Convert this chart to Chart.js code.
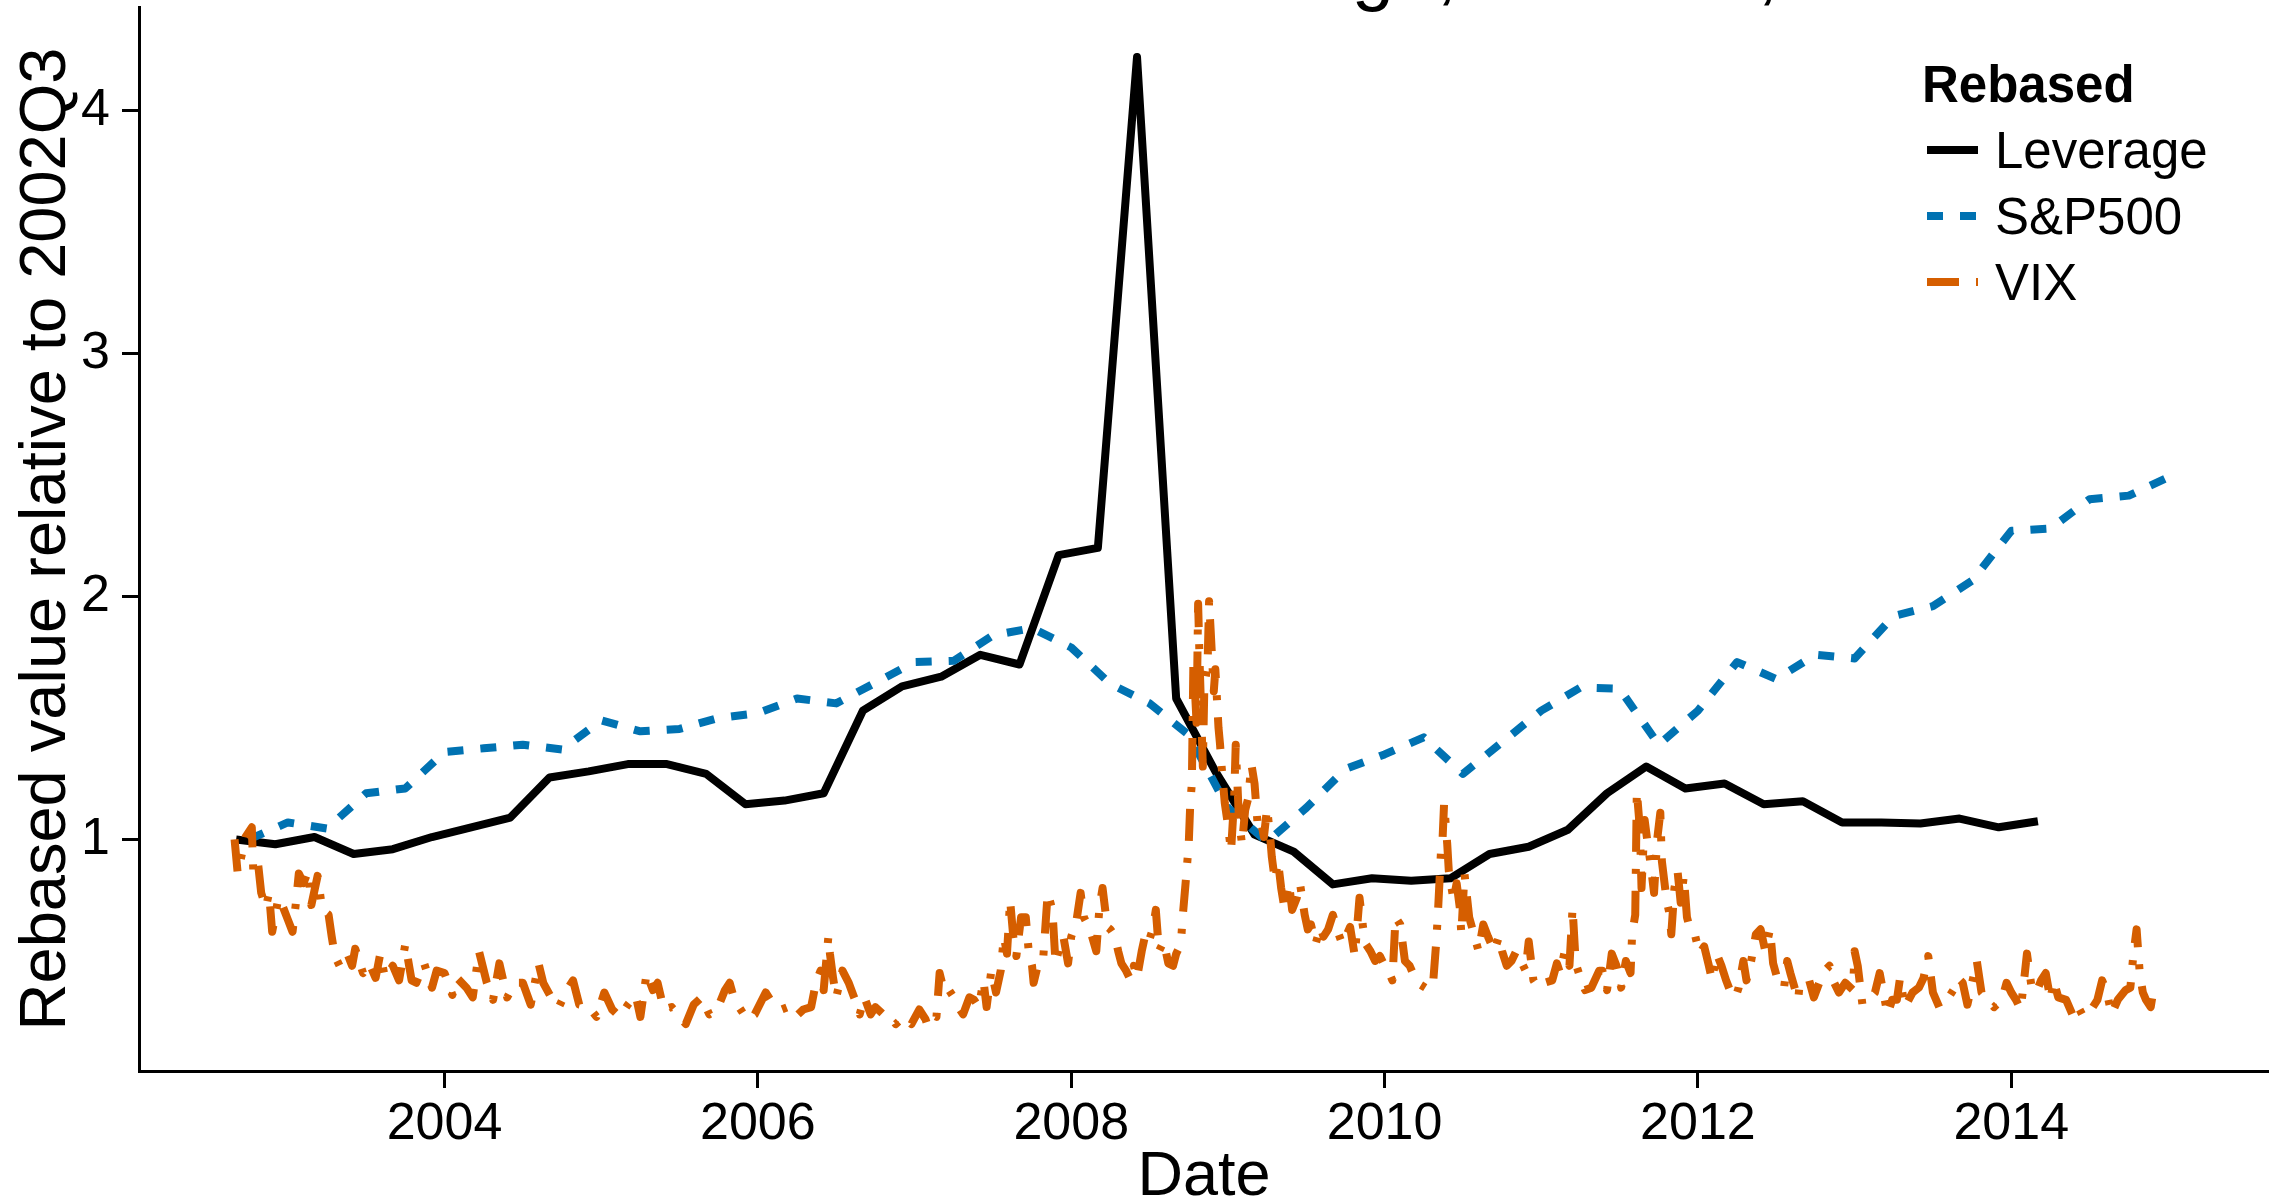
<!DOCTYPE html>
<html>
<head>
<meta charset="utf-8">
<title>Leverage, S&amp;P500, VIX</title>
<script src="https://cdn.jsdelivr.net/npm/chart.js@4.4.1/dist/chart.umd.min.js"></script>
<style>
  html, body { margin: 0; padding: 0; background: #fff; }
  #wrap { position: relative; width: 2269px; height: 1203px; }
</style>
</head>
<body>
<div id="wrap"><canvas id="lineChart"></canvas></div>
<script>
// ---- data: everything rebased to 2002Q3 = 1 ----
const chartTitle = 'Leverage, S&P500, VIX';
const legendTitle = 'Rebased';
const xTicks = [2004, 2006, 2008, 2010, 2012, 2014];
const yTicks = [1, 2, 3, 4];

// leverage, quarterly
const levDates = [
  2002.67, 2002.92, 2003.17, 2003.42, 2003.67, 2003.92, 2004.17, 2004.42, 2004.67, 2004.92,
  2005.17, 2005.42, 2005.67, 2005.92, 2006.17, 2006.42, 2006.67, 2006.92, 2007.17, 2007.42,
  2007.67, 2007.92, 2008.17, 2008.42, 2008.67, 2008.92, 2009.17, 2009.42, 2009.67, 2009.92,
  2010.17, 2010.42, 2010.67, 2010.92, 2011.17, 2011.42, 2011.67, 2011.92, 2012.17, 2012.42,
  2012.67, 2012.92, 2013.17, 2013.42, 2013.67, 2013.92, 2014.17
];
const levValues = [
  1.00, 0.98, 1.01, 0.94, 0.96, 1.01, 1.05, 1.09, 1.255, 1.28,
  1.31, 1.31, 1.27, 1.145, 1.16, 1.19, 1.53, 1.63, 1.67, 1.76,
  1.72, 2.17, 2.20, 4.22, 1.58, 1.28, 1.02, 0.95, 0.815, 0.84,
  0.83, 0.84, 0.94, 0.97, 1.04, 1.19, 1.30, 1.21, 1.23, 1.145,
  1.157, 1.07, 1.07, 1.066, 1.086, 1.05, 1.075
];

// S&P500, quarter ends
const spxDates = [
  2002.75, 2003.00, 2003.25, 2003.50, 2003.75, 2004.00, 2004.25, 2004.50, 2004.75, 2005.00,
  2005.25, 2005.50, 2005.75, 2006.00, 2006.25, 2006.50, 2006.75, 2007.00, 2007.25, 2007.50,
  2007.75, 2008.00, 2008.25, 2008.50, 2008.75, 2009.00, 2009.25, 2009.50, 2009.75, 2010.00,
  2010.25, 2010.50, 2010.75, 2011.00, 2011.25, 2011.50, 2011.75, 2012.00, 2012.25, 2012.50,
  2012.75, 2013.00, 2013.25, 2013.50, 2013.75, 2014.00, 2014.25, 2014.50, 2014.75, 2015.00
];
const spxValues = [
  1.00, 1.07, 1.045, 1.19, 1.21, 1.36, 1.375, 1.39, 1.37, 1.49,
  1.445, 1.455, 1.50, 1.52, 1.58, 1.56, 1.645, 1.73, 1.735, 1.84,
  1.87, 1.79, 1.64, 1.56, 1.43, 1.13, 0.99, 1.13, 1.29, 1.35,
  1.42, 1.27, 1.40, 1.53, 1.625, 1.62, 1.39, 1.53, 1.73, 1.66,
  1.76, 1.745, 1.92, 1.96, 2.065, 2.27, 2.28, 2.40, 2.415, 2.49
];

// VIX
const vixDates = [
  2002.66, 2002.68, 2002.73, 2002.77, 2002.78, 2002.81, 2002.83, 2002.86, 2002.88, 2002.90,
  2002.94, 2002.97, 2003.00, 2003.03, 2003.05, 2003.07, 2003.10, 2003.13, 2003.15, 2003.19,
  2003.22, 2003.26, 2003.28, 2003.30, 2003.33, 2003.38, 2003.41, 2003.43, 2003.48, 2003.52,
  2003.56, 2003.59, 2003.62, 2003.67, 2003.71, 2003.75, 2003.79, 2003.82, 2003.87, 2003.92,
  2003.95, 2004.00, 2004.05, 2004.08, 2004.14, 2004.18, 2004.22, 2004.27, 2004.31, 2004.35,
  2004.40, 2004.45, 2004.50, 2004.55, 2004.60, 2004.63, 2004.68, 2004.73, 2004.78, 2004.82,
  2004.86, 2004.92, 2004.97, 2005.02, 2005.07, 2005.12, 2005.17, 2005.22, 2005.25, 2005.29,
  2005.33, 2005.36, 2005.40, 2005.45, 2005.49, 2005.54, 2005.59, 2005.64, 2005.69, 2005.74,
  2005.79, 2005.82, 2005.85, 2005.89, 2005.93, 2005.98, 2006.05, 2006.10, 2006.15, 2006.19,
  2006.24, 2006.29, 2006.34, 2006.37, 2006.40, 2006.42, 2006.45, 2006.46, 2006.48, 2006.50,
  2006.54, 2006.58, 2006.62, 2006.65, 2006.68, 2006.72, 2006.75, 2006.80, 2006.85, 2006.88,
  2006.93, 2006.98, 2007.03, 2007.07,
  2007.08, 2007.11, 2007.14, 2007.16, 2007.19, 2007.22, 2007.25, 2007.28, 2007.31, 2007.35,
  2007.38, 2007.41, 2007.44, 2007.46, 2007.49, 2007.52, 2007.55, 2007.57, 2007.59, 2007.61,
  2007.63, 2007.65, 2007.68, 2007.71, 2007.73, 2007.75, 2007.76, 2007.79, 2007.82, 2007.85,
  2007.88, 2007.90, 2007.93, 2007.95, 2007.98, 2008.00, 2008.03, 2008.06, 2008.08, 2008.12,
  2008.16, 2008.18, 2008.20, 2008.23, 2008.25, 2008.28, 2008.30, 2008.32, 2008.35, 2008.38,
  2008.40, 2008.42, 2008.45, 2008.47, 2008.49, 2008.52, 2008.54, 2008.56, 2008.59, 2008.62,
  2008.65, 2008.67, 2008.70, 2008.71, 2008.73, 2008.75, 2008.76, 2008.77, 2008.78, 2008.80,
  2008.81, 2008.82, 2008.84, 2008.85, 2008.87, 2008.88, 2008.89, 2008.91, 2008.92, 2008.94,
  2008.95, 2008.96, 2008.98, 2009.00, 2009.02, 2009.04, 2009.05, 2009.07, 2009.09, 2009.11,
  2009.13, 2009.15, 2009.17, 2009.19, 2009.21, 2009.23, 2009.25, 2009.27, 2009.28, 2009.30,
  2009.32, 2009.34, 2009.36, 2009.39, 2009.41, 2009.44, 2009.46, 2009.49, 2009.51, 2009.53,
  2009.56, 2009.59, 2009.61, 2009.64, 2009.67, 2009.69, 2009.73, 2009.76, 2009.78, 2009.81,
  2009.84, 2009.86, 2009.88, 2009.91, 2009.94, 2009.97, 2010.00, 2010.03, 2010.05, 2010.07,
  2010.10, 2010.13, 2010.16, 2010.18, 2010.21, 2010.26, 2010.28, 2010.31, 2010.33, 2010.34,
  2010.36, 2010.37, 2010.38, 2010.40, 2010.41, 2010.44, 2010.46, 2010.48, 2010.49, 2010.51,
  2010.54, 2010.57, 2010.60, 2010.63, 2010.66, 2010.70, 2010.73, 2010.75, 2010.78, 2010.81,
  2010.84, 2010.87, 2010.90, 2010.92, 2010.95, 2010.98, 2011.02, 2011.07, 2011.10, 2011.12,
  2011.15, 2011.18, 2011.20, 2011.22, 2011.25, 2011.28, 2011.32, 2011.37,
  2011.39, 2011.42, 2011.45, 2011.48, 2011.51, 2011.54, 2011.57, 2011.58, 2011.60, 2011.61,
  2011.63, 2011.64, 2011.66, 2011.68, 2011.70, 2011.72, 2011.74, 2011.76, 2011.77, 2011.80,
  2011.82, 2011.83, 2011.85, 2011.87, 2011.89, 2011.91, 2011.93, 2011.95, 2011.98, 2012.01,
  2012.04, 2012.07, 2012.09, 2012.12, 2012.15, 2012.18, 2012.21, 2012.24, 2012.26, 2012.29,
  2012.31, 2012.34, 2012.37, 2012.40, 2012.43, 2012.46, 2012.48, 2012.51, 2012.55, 2012.57,
  2012.59, 2012.64, 2012.65, 2012.71, 2012.74, 2012.78, 2012.81, 2012.84, 2012.87, 2012.90,
  2012.94, 2012.99, 2013.00, 2013.02, 2013.05, 2013.09, 2013.13, 2013.16, 2013.21, 2013.24,
  2013.27, 2013.29, 2013.32, 2013.37, 2013.41, 2013.44, 2013.47, 2013.50, 2013.54, 2013.59,
  2013.63, 2013.66, 2013.69, 2013.72, 2013.75, 2013.78, 2013.81, 2013.85, 2013.89, 2013.94,
  2013.97, 2014.00, 2014.03, 2014.06, 2014.08, 2014.10, 2014.13, 2014.16, 2014.19, 2014.22,
  2014.25, 2014.27, 2014.30, 2014.35, 2014.39, 2014.42, 2014.46, 2014.51, 2014.55, 2014.58,
  2014.61, 2014.64, 2014.68, 2014.73, 2014.76, 2014.78, 2014.80, 2014.82, 2014.84, 2014.86,
  2014.89, 2014.90
];
const vixValues = [
  1.00, 0.86, 1.01, 1.05, 0.86, 0.90, 0.78, 0.72, 0.78, 0.62,
  0.76, 0.72, 0.67, 0.62, 0.73, 0.86, 0.82, 0.87, 0.73, 0.85,
  0.71, 0.69, 0.60, 0.52, 0.48, 0.53, 0.48, 0.55, 0.45, 0.49,
  0.43, 0.53, 0.43, 0.48, 0.42, 0.57, 0.42, 0.41, 0.49, 0.39,
  0.46, 0.45, 0.36, 0.43, 0.39, 0.35, 0.54, 0.41, 0.34, 0.49,
  0.35, 0.41, 0.41, 0.32, 0.49, 0.41, 0.35, 0.31, 0.38, 0.42,
  0.32, 0.31, 0.27, 0.37, 0.30, 0.27, 0.32, 0.36, 0.27, 0.45,
  0.38, 0.41, 0.30, 0.31, 0.28, 0.24, 0.32, 0.35, 0.28, 0.30,
  0.38, 0.41, 0.34, 0.30, 0.26, 0.28, 0.37, 0.32, 0.30, 0.31,
  0.27, 0.30, 0.31, 0.41, 0.46, 0.38, 0.60, 0.53, 0.43, 0.35,
  0.46, 0.41, 0.34, 0.28, 0.35, 0.28, 0.31, 0.28, 0.27, 0.24,
  0.27, 0.24, 0.30, 0.26,
  0.24, 0.28, 0.27, 0.45, 0.37, 0.38, 0.35, 0.31, 0.28, 0.35,
  0.34, 0.31, 0.42, 0.31, 0.46, 0.37, 0.46, 0.60, 0.53, 0.75,
  0.60, 0.52, 0.68, 0.68, 0.53, 0.48, 0.41, 0.49, 0.50, 0.78,
  0.71, 0.49, 0.57, 0.60, 0.49, 0.60, 0.65, 0.78, 0.68, 0.63,
  0.54, 0.72, 0.80, 0.64, 0.63, 0.60, 0.54, 0.49, 0.46, 0.42,
  0.48, 0.43, 0.54, 0.60, 0.57, 0.63, 0.71, 0.54, 0.58, 0.49,
  0.48, 0.53, 0.57, 0.67, 0.82, 0.98, 1.15, 1.23, 1.74, 1.48,
  1.97, 1.72, 1.30, 1.64, 1.71, 1.98, 1.86, 1.61, 1.70, 1.46,
  1.39, 1.30, 1.15, 1.06, 0.95, 1.17, 1.39, 1.09, 0.98, 1.12,
  1.17, 1.31, 1.23, 1.06, 1.08, 1.01, 1.13, 1.01, 0.93, 0.83,
  0.91, 0.80, 0.72, 0.82, 0.71, 0.76, 0.82, 0.69, 0.63, 0.65,
  0.57, 0.64, 0.60, 0.63, 0.69, 0.64, 0.57, 0.61, 0.64, 0.52,
  0.76, 0.65, 0.57, 0.54, 0.50, 0.52, 0.48, 0.45, 0.42, 0.68,
  0.65, 0.50, 0.48, 0.45, 0.41, 0.39, 0.38, 0.41, 0.58, 0.69,
  0.95, 1.00, 1.15, 0.98, 0.87, 0.75, 0.82, 0.72, 0.61, 0.86,
  0.68, 0.61, 0.54, 0.65, 0.60, 0.54, 0.60, 0.54, 0.48, 0.50,
  0.54, 0.50, 0.46, 0.58, 0.42, 0.39, 0.41, 0.42, 0.49, 0.45,
  0.54, 0.48, 0.72, 0.49, 0.43, 0.38, 0.39, 0.46,
  0.46, 0.38, 0.53, 0.48, 0.39, 0.50, 0.45, 0.61, 0.69, 1.20,
  1.04, 0.80, 1.08, 0.98, 0.89, 0.78, 1.00, 1.11, 0.91, 0.75,
  0.69, 0.61, 0.80, 0.87, 0.74, 0.85, 0.68, 0.63, 0.61, 0.53,
  0.56, 0.48, 0.42, 0.53, 0.48, 0.42, 0.37, 0.35, 0.39, 0.50,
  0.42, 0.50, 0.61, 0.63, 0.54, 0.63, 0.49, 0.42, 0.39, 0.50,
  0.45, 0.34, 0.41, 0.42, 0.35, 0.42, 0.46, 0.48, 0.41, 0.37,
  0.41, 0.38, 0.54, 0.48, 0.32, 0.34, 0.37, 0.45, 0.28, 0.34,
  0.34, 0.43, 0.31, 0.37, 0.39, 0.43, 0.52, 0.37, 0.31, 0.34,
  0.38, 0.43, 0.41, 0.32, 0.41, 0.50, 0.37, 0.34, 0.31, 0.34,
  0.41, 0.37, 0.34, 0.30, 0.41, 0.53, 0.39, 0.37, 0.42, 0.45,
  0.34, 0.42, 0.35, 0.34, 0.28, 0.32, 0.27, 0.30, 0.34, 0.42,
  0.37, 0.28, 0.34, 0.38, 0.39, 0.53, 0.63, 0.45, 0.37, 0.34,
  0.31, 0.35
];

const FONT = '"Liberation Sans", Arial, Helvetica, sans-serif';
Chart.defaults.font.family = FONT;
Chart.defaults.color = '#000';

const series = [
  { label: 'Leverage', dates: levDates, values: levValues, color: '#000000', dash: [], order: 3 },
  { label: 'S&P500', dates: spxDates, values: spxValues, color: '#0072B2', dash: [16, 17], order: 2 },
  { label: 'VIX', dates: vixDates, values: vixValues, color: '#D55E00', dash: [32, 17, 5, 17], order: 1 }
];

let datasets = series.map(s => ({
  label: s.label,
  data: s.dates.map((d, k) => ({ x: d, y: s.values[k] })),
  borderColor: s.color,
  borderWidth: 8,
  borderDash: s.dash,
  borderCapStyle: 'butt',
  borderJoinStyle: 'round',
  pointRadius: 0,
  pointHoverRadius: 0,
  tension: 0,
  fill: false,
  order: s.order
}));

// title (clipped at the top edge) and the keyed legend in the top right corner
const annotate = {
  id: 'annotate',
  afterDraw(chart) {
    const ctx = chart.ctx;
    ctx.save();
    ctx.fillStyle = '#000';
    ctx.textBaseline = 'alphabetic';
    ctx.font = '76px ' + FONT;
    ctx.textAlign = 'right';
    ctx.fillText(chartTitle, 1922, -4);

    ctx.textAlign = 'left';
    ctx.font = 'bold 51px ' + FONT;
    ctx.fillText(legendTitle, 1922, 102);
    ctx.font = '51px ' + FONT;
    chart.data.datasets.forEach((ds, i) => {
      const base = 168 + i * 66;
      ctx.beginPath();
      ctx.setLineDash(ds.borderDash);
      ctx.lineWidth = 8;
      ctx.lineCap = 'butt';
      ctx.strokeStyle = ds.borderColor;
      ctx.moveTo(1927, base - 18);
      ctx.lineTo(1978, base - 18);
      ctx.stroke();
      ctx.setLineDash([]);
      ctx.fillText(ds.label, 1995, base);
    });
    ctx.restore();
  }
};

const axisGrid = {
  display: true,
  drawOnChartArea: false,
  drawTicks: true,
  tickLength: 17,
  tickWidth: 3,
  tickColor: '#000'
};
const axisBorder = { display: true, color: '#000', width: 3 };

let ctx = document.getElementById('lineChart');
let lineChart = new Chart(ctx, {
  type: 'line',
  data: { datasets: datasets },
  plugins: [annotate],
  options: {
    responsive: true,
    maintainAspectRatio: false,
    animation: false,
    events: [],
    layout: { padding: { top: 7, right: 0, bottom: 0, left: 0 } },
    plugins: {
      legend: { display: false },
      tooltip: { enabled: false }
    },
    scales: {
      x: {
        type: 'linear',
        min: 2002.05,
        max: 2015.645,
        afterBuildTicks: axis => { axis.ticks = xTicks.map(v => ({ value: v })); },
        afterFit: axis => {
          axis.height = 132;
          axis.paddingLeft = 0;
          axis.paddingRight = 0;
        },
        grid: axisGrid,
        border: axisBorder,
        ticks: {
          font: { size: 52 },
          color: '#000',
          padding: 5,
          maxRotation: 0,
          autoSkip: false,
          callback: v => String(v)
        },
        title: {
          display: true,
          text: 'Date',
          color: '#000',
          font: { size: 63, lineHeight: 0.8 },
          padding: { top: 0, bottom: 0 }
        }
      },
      y: {
        type: 'linear',
        min: 0.047,
        max: 4.426,
        afterBuildTicks: axis => { axis.ticks = yTicks.map(v => ({ value: v })); },
        afterFit: axis => {
          axis.width = 139;
          axis.paddingTop = 0;
          axis.paddingBottom = 0;
        },
        grid: axisGrid,
        border: axisBorder,
        ticks: {
          font: { size: 52 },
          color: '#000',
          padding: 12,
          callback: v => String(v)
        },
        title: {
          display: true,
          text: 'Rebased value relative to 2002Q3',
          color: '#000',
          font: { size: 65, lineHeight: 1.2 },
          padding: { top: 8, bottom: 0 }
        }
      }
    }
  }
});
</script>
</body>
</html>
